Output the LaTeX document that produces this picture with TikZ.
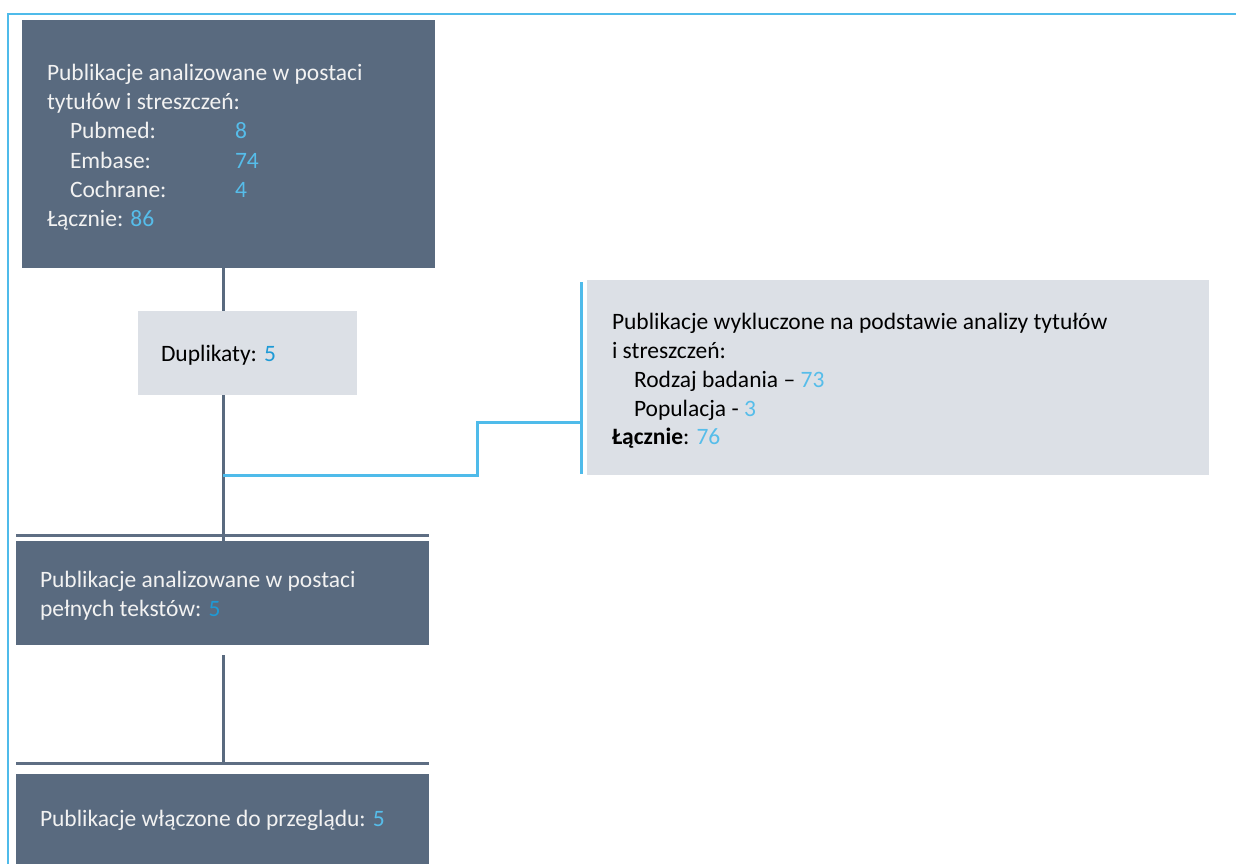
\documentclass[tikz,border=0pt]{standalone}
\usepackage{fontspec}
\setmainfont{Carlito}
\definecolor{slate}{HTML}{596A7F}
\definecolor{lightbox}{HTML}{DCE0E6}
\definecolor{cyanb}{HTML}{4FBBEA}
\definecolor{txtw}{HTML}{F2F2F2}
\definecolor{numa}{HTML}{56BDEA}
\definecolor{numb}{HTML}{1E9AD6}
\definecolor{sepc}{HTML}{5E6E83}
\begin{document}
\begin{tikzpicture}[x=1pt,y=-1pt,
  box/.style={draw=none, inner sep=0pt, outer sep=0pt, anchor=north west},
  dark/.style={box, fill=slate},
  pale/.style={box, fill=lightbox},
  txt/.style={anchor=base west, inner sep=0pt, outer sep=0pt, font=\fontsize{23.5}{28}\selectfont},
  wtxt/.style={txt, text=txtw},
  btxt/.style={txt, text=black},
  conn/.style={draw=slate, line width=3pt},
  sepline/.style={draw=sepc, line width=3pt},
  blue/.style={draw=cyanb, line width=3pt},
  frame/.style={draw=cyanb, line width=2pt}]
\useasboundingbox (0,0) rectangle (1236,864);
% frame
\draw[frame] (8,864) -- (8,14) -- (1236,14);
% boxes
\node[dark, minimum width=413pt, minimum height=248pt] (b1) at (22,20) {};
\node[pale, minimum width=219pt, minimum height=84pt] (b2) at (138,311) {};
\node[pale, minimum width=622pt, minimum height=195pt] (b3) at (587,280) {};
\node[dark, minimum width=413pt, minimum height=104pt] (b4) at (16,541) {};
\node[dark, minimum width=413pt, minimum height=90pt] (b5) at (16,774) {};
% coordinates
\coordinate (j1) at (223,475);
\coordinate (j2) at (477,422);
\coordinate (bt) at (581,282);
\coordinate (bb) at (581,474);
\coordinate (s1) at (16,535);
\coordinate (c4) at (223,655);
\coordinate (s2) at (16,763);
% connectors
\draw[conn] (b1.south -| j1) -- (b2.north -| j1);
\draw[conn] (b2.south -| j1) -- (b4.north -| j1);
\draw[sepline] (s1) -- (s1 -| b4.east);
\draw[conn] (c4) -- (c4 |- s2);
\draw[sepline] (s2) -- (s2 -| b5.east);
\draw[blue] (j1) -| (j2) -- (j2 -| bt);
\draw[blue] (bt) -- (bb);
% texts box 1
\node[wtxt] (t11) at (47,81) {Publikacje analizowane w postaci};
\node[wtxt] (t12) at (47,110) {tytułów i streszczeń:};
\node[wtxt] (t13) at (70,139) {Pubmed:};
\node[wtxt] (t14) at (70,168) {Embase:};
\node[wtxt] (t15) at (70,197) {Cochrane:};
\node[wtxt] (t16) at (47,226) {Łącznie: \textcolor{numa}{86}};
\node[txt, text=numa] (n13) at (235,139) {8};
\node[txt, text=numa] (n14) at (235,168) {74};
\node[txt, text=numa] (n15) at (235,197) {4};
% box 2
\node[btxt] (t2) at (161,361) {Duplikaty: \textcolor{numb}{5}};
% box 3
\node[btxt] (t31) at (612,329) {Publikacje wykluczone na podstawie analizy tytułów};
\node[btxt] (t32) at (612,358) {i streszczeń:};
\node[btxt] (t33) at (634,387) {Rodzaj badania -- \textcolor{numa}{73}};
\node[btxt] (t34) at (634,416) {Populacja - \textcolor{numa}{3}};
\node[btxt] (t35) at (612,444) {\textbf{Łącznie}: \textcolor{numa}{76}};
% box 4
\node[wtxt] (t41) at (40,587) {Publikacje analizowane w postaci};
\node[wtxt] (t42) at (40,616) {pełnych tekstów: \textcolor{numb}{5}};
% box 5
\node[wtxt] (t5) at (40,826) {Publikacje włączone do przeglądu: \textcolor{numa}{5}};
\end{tikzpicture}
\end{document}
